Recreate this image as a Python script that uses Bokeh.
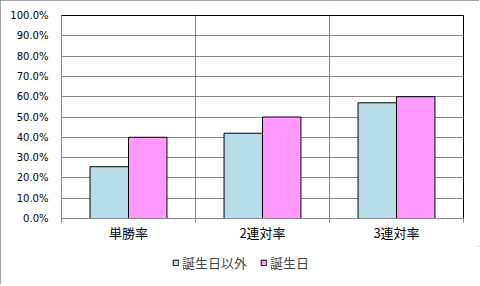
from bokeh.plotting import figure
from bokeh.layouts import column
from bokeh.models import (ColumnDataSource, FixedTicker, NumeralTickFormatter, Range1d,
                          Legend, LegendItem)
from bokeh.embed import file_html
from bokeh.resources import INLINE
import numpy as np

categories = ["単勝率", "2連対率", "3連対率"]
series_names = ["誕生日以外", "誕生日"]
other_days = [0.255, 0.42, 0.57]
birthday = [0.40, 0.50, 0.60]
colors = ["#B7DDE8", "#FF99FF"]
y_ticks = [i / 10 for i in range(11)]

FONT = "Noto Sans CJK JP"
GRAY = "#868686"

p = figure(width=479, height=246, output_backend="svg", toolbar_location=None,
           x_range=Range1d(0, len(categories)), y_range=Range1d(0, 1),
           min_border_left=61, min_border_right=16, min_border_top=15, min_border_bottom=28)
p.border_fill_color = "white"
p.background_fill_color = "white"
p.outline_line_color = "black"

centers = np.arange(len(categories)) + 0.5
bw = 0.287
src = ColumnDataSource(dict(x1=centers - bw / 2, x2=centers + bw / 2,
                            a=other_days, b=birthday))
p.vbar(x="x1", top="a", width=bw, source=src, fill_color=colors[0], line_color="black", line_width=1)
p.vbar(x="x2", top="b", width=bw, source=src, fill_color=colors[1], line_color="black", line_width=1)

# grid
p.ygrid.ticker = FixedTicker(ticks=y_ticks)
p.ygrid.grid_line_color = GRAY
p.xgrid.ticker = FixedTicker(ticks=list(range(1, len(categories))))
p.xgrid.grid_line_color = GRAY

# axes
p.yaxis.ticker = FixedTicker(ticks=y_ticks)
p.yaxis.formatter = NumeralTickFormatter(format="0.0%")
p.yaxis.major_tick_line_color = None
p.yaxis.major_tick_out = 0
p.yaxis.major_tick_in = 0
p.yaxis.minor_tick_line_color = None
p.yaxis.axis_line_color = GRAY
p.yaxis.major_label_text_font = "DejaVu Sans"
p.yaxis.major_label_text_font_size = "10px"
p.yaxis.major_label_text_color = "black"
p.yaxis.major_label_standoff = 13

p.xaxis.ticker = FixedTicker(ticks=list(centers), minor_ticks=list(range(len(categories) + 1)))
p.xaxis.major_label_overrides = {float(c): n for c, n in zip(centers, categories)}
p.xaxis.major_tick_line_color = None
p.xaxis.major_tick_out = 0
p.xaxis.major_tick_in = 0
p.xaxis.minor_tick_line_color = GRAY
p.xaxis.minor_tick_out = 4
p.xaxis.minor_tick_in = 0
p.xaxis.axis_line_color = GRAY
p.xaxis.major_label_text_font = FONT
p.xaxis.major_label_text_font_size = "13px"
p.xaxis.major_label_text_color = "black"
p.xaxis.major_label_standoff = 0

# legend strip (its bars lie outside its own y range, so only the legend shows)
p2 = figure(width=479, height=38, output_backend="svg", toolbar_location=None,
            x_axis_type=None, y_axis_type=None, x_range=Range1d(0, len(categories)),
            y_range=Range1d(2, 3),
            min_border=0, min_border_left=0, min_border_right=0, min_border_top=0, min_border_bottom=0)
p2.outline_line_color = None
p2.xgrid.visible = False
p2.ygrid.visible = False
p2.border_fill_color = "white"
p2.background_fill_color = "white"
lr1 = p2.vbar(x="x1", top="a", width=bw, source=src, fill_color=colors[0], line_color="black")
lr2 = p2.vbar(x="x2", top="b", width=bw, source=src, fill_color=colors[1], line_color="black")
legend = Legend(items=[LegendItem(label=series_names[0], renderers=[lr1]),
                       LegendItem(label=series_names[1], renderers=[lr2])],
                orientation="horizontal", location=(111, 12),
                glyph_width=7, glyph_height=7, label_standoff=3, spacing=13,
                padding=0, margin=0, border_line_color=None, background_fill_alpha=0,
                label_text_font=FONT, label_text_font_size="13px", label_height=14)
p2.add_layout(legend, "center")

layout = column(p, p2, spacing=0, styles={"outline": "1px solid " + GRAY, "outline-offset": "-1px"})

open("out.html", "w").write(file_html(layout, INLINE))
